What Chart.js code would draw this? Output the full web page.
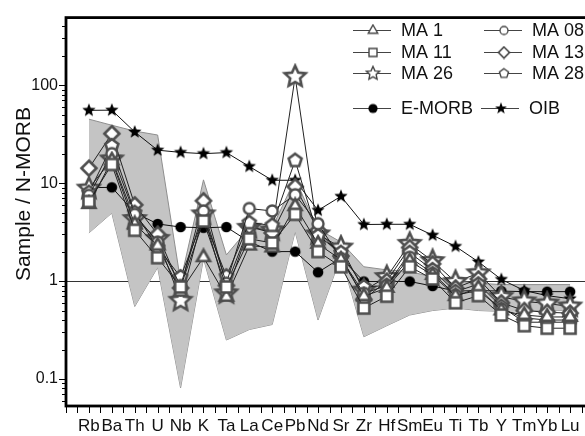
<!DOCTYPE html>
<html>
<head>
<meta charset="utf-8">
<script src="https://cdn.jsdelivr.net/npm/chart.js@4.4.1/dist/chart.umd.min.js"></script>
<style>
  body { margin: 0; background: #fff; }
  #wrap { width: 585px; height: 436px; overflow: hidden; }
</style>
</head>
<body>
<div id="wrap"><canvas id="spider" width="600" height="436"></canvas></div>
<script>
// element order on the spider diagram
var elements = ['Rb','Ba','Th','U','Nb','K','Ta','La','Ce','Pb','Nd','Sr','Zr','Hf','Sm','Eu','Ti','Tb','Y','Tm','Yb','Lu'];
var yTicks = [0.1, 1, 10, 100];

// N-MORB normalised values
var ma1  = [6.1, 17, 3.8, 2.3, 0.78, 1.75, 0.69, 2.3, 2.2, 5.8, 2.4, 1.65, 0.7, 0.85, 1.6, 1.15, 0.7, 0.85, 0.5, 0.45, 0.43, 0.43];
var ma08 = [7.5, 20, 4.8, 2.5, 0.9, 5.2, 0.95, 5.5, 5.2, 7.6, 3.85, 1.7, 0.75, 0.9, 1.75, 1.2, 0.72, 0.8, 0.52, 0.42, 0.4, 0.4];
var ma11 = [6.5, 15.5, 3.3, 1.73, 0.87, 4.1, 0.87, 2.7, 2.45, 4.8, 2.0, 1.4, 0.53, 0.7, 1.4, 1.05, 0.6, 0.71, 0.45, 0.35, 0.33, 0.33];
var ma13 = [14.2, 32, 6.0, 3.0, 0.85, 6.6, 0.9, 3.6, 3.1, 9.2, 3.3, 1.8, 0.65, 1.0, 2.2, 1.5, 0.85, 1.05, 0.6, 0.5, 0.48, 0.47];
var ma26 = [8.8, 17.5, 4.3, 2.7, 0.63, 4.8, 0.75, 3.5, 3.3, 122, 3.0, 2.2, 0.8, 1.1, 2.4, 1.6, 0.98, 1.2, 0.69, 0.62, 0.59, 0.55];
var ma28 = [8.0, 24, 5.0, 2.2, 1.1, 4.4, 1.12, 3.95, 3.7, 17, 2.9, 1.95, 0.87, 0.9, 1.95, 1.3, 0.78, 0.93, 0.55, 0.38, 0.38, 0.38];
var emorb = [9.0, 9.05, 5.0, 3.83, 3.56, 3.5, 3.56, 2.52, 2.0, 2.0, 1.23, 1.72, 0.99, 0.99, 0.99, 0.89, 0.79, 0.8, 0.79, 0.78, 0.78, 0.78];
var oib  = [55.4, 55.6, 33.3, 21.7, 20.6, 20, 20.5, 14.8, 10.7, 10.7, 5.27, 7.33, 3.78, 3.8, 3.8, 2.94, 2.26, 1.57, 1.04, 0.8, 0.71, 0.66];
// grey field of comparison rocks
var fieldUpper = [45, 39, 34, 31, 1.0, 10.8, 1.85, 3.5, 3.5, 11, 3.4, 2.5, 1.4, 1.3, 1.25, 1.1, 1.0, 0.95, 0.92, 0.92, 0.92, 0.92];
var fieldLower = [3.1, 4.95, 0.55, 1.38, 0.081, 1.7, 0.25, 0.32, 0.36, 3.2, 0.4, 1.8, 0.27, 0.35, 0.45, 0.5, 0.53, 0.5, 0.49, 0.5, 0.5, 0.5];

var markGrey = '#4e4e4e';
var FONT = '"Liberation Sans", Arial, sans-serif';

function pts(arr) {
  return arr.map(function (v, i) { return { x: i, y: v }; });
}

function makeMarker(size, drawPath, fill, stroke, lw) {
  var c = document.createElement('canvas');
  c.width = size; c.height = size;
  var g = c.getContext('2d');
  g.translate(size / 2, size / 2);
  g.beginPath();
  drawPath(g);
  g.closePath();
  g.fillStyle = fill;
  g.fill();
  if (lw > 0) { g.lineWidth = lw; g.strokeStyle = stroke; g.stroke(); }
  return c;
}
function starPath(R, r) {
  return function (g) {
    for (var k = 0; k < 10; k++) {
      var a = -Math.PI / 2 + k * Math.PI / 5;
      var rr = k % 2 === 0 ? R : r;
      g.lineTo(rr * Math.cos(a), rr * Math.sin(a));
    }
  };
}
function polyPath(n, R, rot) {
  return function (g) {
    for (var k = 0; k < n; k++) {
      var a = rot + k * 2 * Math.PI / n;
      g.lineTo(R * Math.cos(a), R * Math.sin(a));
    }
  };
}
function circlePath(r) { return function (g) { g.arc(0, 0, r, 0, Math.PI * 2); }; }
function squarePath(h) { return function (g) { g.rect(-h, -h, 2 * h, 2 * h); }; }

// plot markers
var mTri = makeMarker(20, polyPath(3, 7.5, -Math.PI / 2), '#fff', markGrey, 2.6);
var mCirc = makeMarker(18, circlePath(5.5), '#fff', markGrey, 2.4);
var mSq = makeMarker(18, squarePath(5.5), '#fff', markGrey, 2.6);
var mDia = makeMarker(20, polyPath(4, 7.5, -Math.PI / 2), '#fff', markGrey, 2.6);
var mStar = makeMarker(28, starPath(11, 5.2), '#fff', markGrey, 2.6);
var mPent = makeMarker(20, polyPath(5, 6.8, -Math.PI / 2), '#fff', markGrey, 2.6);
var mOib = makeMarker(18, starPath(7, 3), '#000', '#000', 0);
var mEm = makeMarker(14, circlePath(5.3), '#000', '#000', 0);

// legend markers (smaller, thin outline)
var lTri = makeMarker(14, polyPath(3, 5.5, -Math.PI / 2), '#fff', '#444', 1.4);
var lCirc = makeMarker(14, circlePath(4), '#fff', '#444', 1.3);
var lSq = makeMarker(14, squarePath(4), '#fff', '#444', 1.4);
var lDia = makeMarker(14, polyPath(4, 5.5, -Math.PI / 2), '#fff', '#444', 1.6);
var lStar = makeMarker(18, starPath(7, 3.3), '#fff', '#444', 1.4);
var lPent = makeMarker(14, polyPath(5, 4.8, -Math.PI / 2), '#fff', '#444', 1.4);
var lOib = makeMarker(16, starPath(6.3, 2.6), '#000', '#000', 0);
var lEm = makeMarker(14, circlePath(4.6), '#000', '#000', 0);

function sample(label, arr, marker) {
  return {
    label: label, data: pts(arr), borderColor: '#222', borderWidth: 1,
    pointStyle: marker, pointRadius: 6, fill: false, order: 2
  };
}

var datasets = [
  { label: 'lower', data: pts(fieldLower), borderColor: '#8e8e8e', borderWidth: 1, pointRadius: 0, fill: false, order: 10 },
  { label: 'upper', data: pts(fieldUpper), borderColor: '#8e8e8e', borderWidth: 1, pointRadius: 0,
    fill: { target: 0 }, backgroundColor: '#c4c4c4', order: 9 },
  { label: 'OIB', data: pts(oib), borderColor: '#111', borderWidth: 1, pointStyle: mOib, pointRadius: 6, order: 5 },
  { label: 'E-MORB', data: pts(emorb), borderColor: '#111', borderWidth: 1, pointStyle: mEm, pointRadius: 5, order: 4 },
  sample('MA 11', ma11, mSq),
  sample('MA 1', ma1, mTri),
  sample('MA 08', ma08, mCirc),
  sample('MA 28', ma28, mPent),
  sample('MA 13', ma13, mDia),
  sample('MA 26', ma26, mStar)
];

var legendRows = [
  { label: 'MA 1', m: lTri, x: 353, y: 30 },
  { label: 'MA 08', m: lCirc, x: 484, y: 30 },
  { label: 'MA 11', m: lSq, x: 353, y: 52 },
  { label: 'MA 13', m: lDia, x: 484, y: 52 },
  { label: 'MA 26', m: lStar, x: 353, y: 73 },
  { label: 'MA 28', m: lPent, x: 484, y: 73 },
  { label: 'E-MORB', m: lEm, x: 353, y: 108 },
  { label: 'OIB', m: lOib, x: 481, y: 108 }
];

var decor = {
  id: 'decor',
  beforeDatasetsDraw: function (chart) {
    var ctx = chart.ctx, a = chart.chartArea, ys = chart.scales.y;
    var y1 = Math.round(ys.getPixelForValue(1)) + 0.5;
    ctx.save();
    ctx.strokeStyle = '#333';
    ctx.lineWidth = 1;
    ctx.beginPath(); ctx.moveTo(a.left, y1); ctx.lineTo(a.right, y1); ctx.stroke();
    ctx.restore();
  },
  afterDraw: function (chart) {
    var ctx = chart.ctx, a = chart.chartArea, xs = chart.scales.x, ys = chart.scales.y;
    ctx.save();
    // frame
    ctx.strokeStyle = '#000';
    ctx.lineWidth = 2.8;
    ctx.strokeRect(a.left, a.top, a.right - a.left, a.bottom - a.top);
    // x tick marks every half step
    ctx.lineWidth = 1;
    ctx.beginPath();
    for (var v = -1; v <= 22; v += 0.5) {
      var px = Math.round(xs.getPixelForValue(v)) + 0.5;
      ctx.moveTo(px, a.bottom); ctx.lineTo(px, a.bottom + 7);
    }
    // y tick marks, major and minor
    for (var e = -2; e <= 2; e++) {
      for (var m = 1; m <= 9; m++) {
        var val = m * Math.pow(10, e);
        if (val < ys.min || val > ys.max) continue;
        var py = Math.round(ys.getPixelForValue(val)) + 0.5;
        ctx.moveTo(a.left, py); ctx.lineTo(a.left - (m === 1 ? 7 : 4), py);
      }
    }
    ctx.stroke();
    // axis title
    ctx.fillStyle = '#111';
    ctx.font = '21px ' + FONT;
    ctx.textAlign = 'center';
    ctx.textBaseline = 'middle';
    ctx.translate(24, 194);
    ctx.rotate(-Math.PI / 2);
    ctx.fillText('Sample / N-MORB', 0, 0);
    ctx.restore();

    // legend
    ctx.save();
    ctx.font = '18px ' + FONT;
    ctx.textBaseline = 'middle';
    ctx.fillStyle = '#111';
    legendRows.forEach(function (r) {
      ctx.strokeStyle = '#444';
      ctx.lineWidth = 1;
      ctx.beginPath(); ctx.moveTo(r.x, r.y + 0.5); ctx.lineTo(r.x + 38, r.y + 0.5); ctx.stroke();
      ctx.drawImage(r.m, r.x + 20 - r.m.width / 2, r.y + 0.5 - r.m.height / 2);
      ctx.fillText(r.label, r.x + 48, r.y + 1);
    });
    ctx.restore();
  }
};

new Chart(document.getElementById('spider'), {
  type: 'line',
  data: { datasets: datasets },
  options: {
    responsive: false,
    animation: false,
    layout: { padding: { top: 7, right: 3, left: 0, bottom: 0 } },
    plugins: { legend: { display: false }, tooltip: { enabled: false } },
    elements: { line: { tension: 0 } },
    scales: {
      x: {
        type: 'linear', min: -1, max: 22,
        grid: { display: false, drawTicks: false },
        border: { display: false },
        afterBuildTicks: function (s) { s.ticks = elements.map(function (_, i) { return { value: i }; }); },
        afterFit: function (s) { s.height = 30; },
        ticks: {
          autoSkip: false, maxRotation: 0, padding: 10, color: '#111',
          font: { size: 17, family: FONT },
          callback: function (v) { return elements[v]; }
        }
      },
      y: {
        type: 'logarithmic', min: 0.053, max: 490,
        grid: { display: false, drawTicks: false },
        border: { display: false },
        afterBuildTicks: function (s) { s.ticks = yTicks.map(function (v) { return { value: v }; }); },
        afterFit: function (s) { s.width = 66; },
        ticks: {
          autoSkip: false, padding: 8, color: '#111',
          font: { size: 16, family: FONT },
          callback: function (v) { return String(v); }
        }
      }
    }
  },
  plugins: [decor]
});
</script>
</body>
</html>
